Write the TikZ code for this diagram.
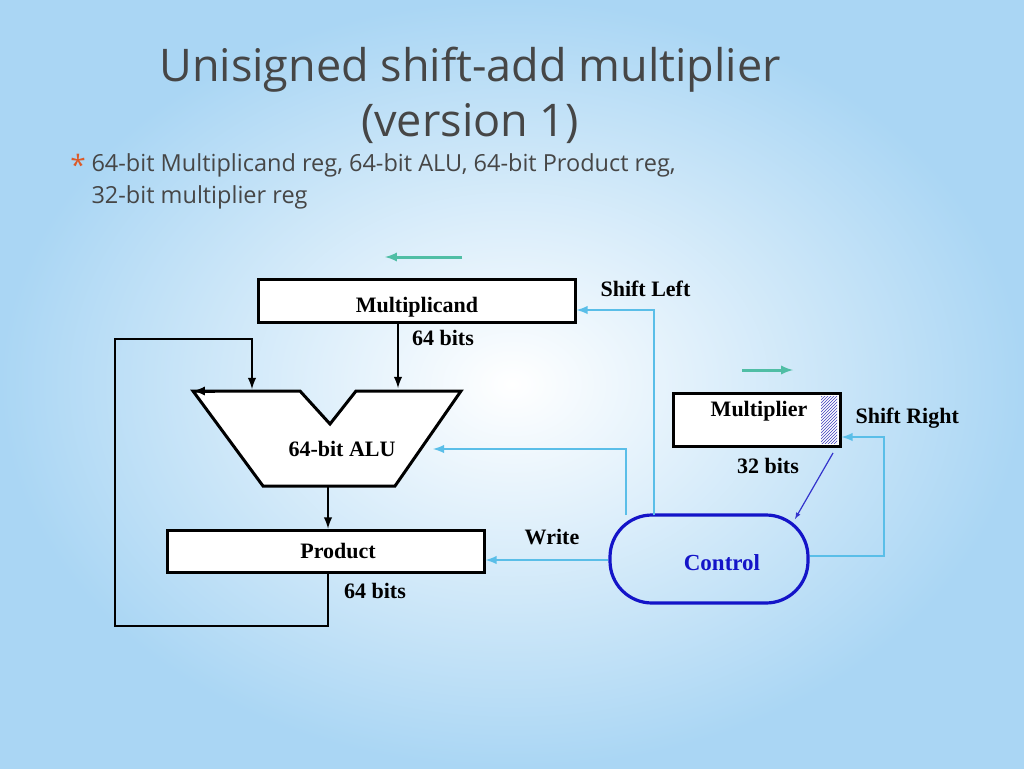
\documentclass[tikz,border=0pt]{standalone}
\usepackage{fontspec}
\setmainfont{Liberation Serif}
\newfontfamily\titlefont{Open Sans}
\usepackage{tikz}
\usetikzlibrary{positioning,patterns}
\definecolor{skyedge}{RGB}{170,214,244}
\definecolor{wireblue}{RGB}{90,190,232}
\definecolor{tealarrow}{RGB}{80,190,165}
\definecolor{ctrlblue}{RGB}{20,20,200}
\definecolor{titlegray}{RGB}{70,70,70}
\definecolor{bulletred}{RGB}{220,90,40}

\begin{document}
\begin{tikzpicture}[x=1pt,y=-1pt,>=latex]
\tikzset{reg/.style={draw,line width=3pt,fill=white},
  lbl/.style={font=\fontsize{22}{24}\selectfont\bfseries},
  blk/.style={line width=2.8pt,->},
  ctl/.style={wireblue,line width=2.8pt,->}}
\useasboundingbox (0,0) rectangle (1024,768);
\shade[inner color=white,outer color=skyedge] (0,0) rectangle (1024,768);
% title and bullet
\node[titlegray,font=\titlefont\fontsize{45}{55}\selectfont,align=center] (title) at (470,95) {Unisigned shift-add multiplier\\(version 1)};
\node[bulletred,font=\titlefont\fontsize{28}{28}\selectfont] (star) at (78,165) {*};
\node[titlegray,font=\titlefont\fontsize{23.5}{32}\selectfont,align=left,anchor=north west] (bullet) at (88,150) {64-bit Multiplicand reg, 64-bit ALU, 64-bit Product reg,\\32-bit multiplier reg};
% registers
\node[reg,minimum width=317pt,minimum height=43pt] (mcand) at (416.5,300.5) {};
\node[lbl] at (417,307) {Multiplicand};
\node[lbl] (mcbits) at (443,338) {64 bits};
\node[reg,minimum width=317pt,minimum height=42pt] (prod) at (325.5,551) {};
\node[lbl] at (338,551) {Product};
\node[lbl] (pbits) at (375,591) {64 bits};
\node[reg,minimum width=167pt,minimum height=53pt] (mplier) at (756.5,419.5) {};
\fill[pattern=north east lines,pattern color=blue!50!gray] (821,396) rectangle (837,443);
\node[lbl] at (759,411) {Multiplier};
\node[lbl] (mbits) at (768,466) {32 bits};
% ALU
\draw[line width=3pt,fill=white] (193,391) -- (300,391) -- (330,424) -- (356,391) -- (461,391)
  -- (395,486) -- (263,486) -- cycle;
\draw[line width=3pt,<-] (193,391) -- (215,391);
\node[lbl] (alu) at (342,449) {64-bit ALU};
\coordinate (aluR) at (433,449);
% control
\node[draw=ctrlblue,line width=3.2pt,rounded corners=42pt,minimum width=198pt,minimum height=88pt] (ctrl) at (709,559) {};
\node[text=ctrlblue,font=\fontsize{23}{24}\selectfont\bfseries] at (722,563) {Control};
% black datapath
\draw[blk] (mcand.south -| 398,0) -- (398,388);
\draw[blk] (328,486) -- (prod.north -| 328,0);
\draw[blk] (prod.south -| 328,0) -- (328,626) -- (115,626) -- (115,339) -- (252,339) -- (252,389);
% control lines
\draw[ctl] (654,515) -- (654,310) -- (mcand.east |- 0,310);
\draw[ctl] (626,515) -- (626,449) -- (aluR);
\draw[ctl] (ctrl.west |- 0,560) -- (prod.east |- 0,560);
\draw[ctl] (ctrl.east |- 0,556) -- (884,556) -- (884,437) -- (mplier.east |- 0,437);
\draw[->,blue!60!gray,line width=1.2pt] (833,453) -- (795,519);
\node[lbl,anchor=west] (sl) at (597,289) {Shift Left};
\node[lbl,anchor=west] (sr) at (852,418) {Shift Right};
\node[lbl] (wr) at (552,537) {Write};
% shift direction arrows
\draw[tealarrow,line width=3pt,->] (462,257) -- (385,257);
\draw[tealarrow,line width=3pt,->] (742,370) -- (793,370);
\end{tikzpicture}
\end{document}
